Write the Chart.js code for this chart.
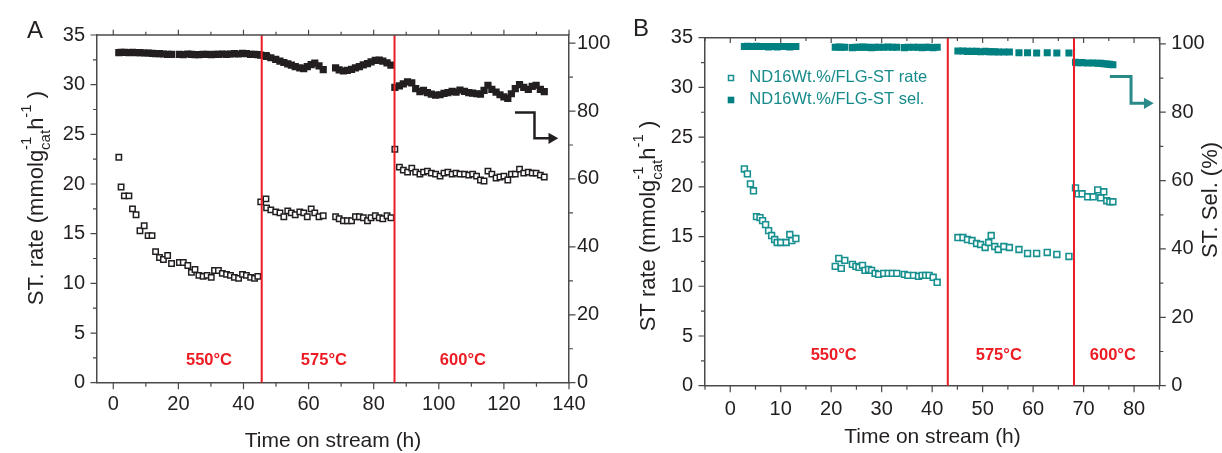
<!DOCTYPE html>
<html>
<head>
<meta charset="utf-8">
<script src="https://cdn.jsdelivr.net/npm/chart.js@4.4.1/dist/chart.umd.min.js"></script>
<style>
  html, body { margin: 0; padding: 0; background: #fff; }
  #wrap { position: relative; width: 1222px; height: 453px; }
  #wrap canvas { position: absolute; top: 0; }
</style>
</head>
<body>
<div id="wrap">
  <canvas id="chartA" width="610" height="453" style="left:0px"></canvas>
  <canvas id="chartB" width="612" height="453" style="left:610px"></canvas>
</div>
<script>
// ---- panel A : time on stream (h), ST rate and ST selectivity ----
const timeA = [
  1.7, 2.4, 3.4, 4.8, 5.9, 7.0, 8.2, 9.5, 10.7, 11.9, 13.0, 14.2, 15.4, 16.7, 17.9, 20.3, 21.5, 22.9,
  24.0, 25.1, 26.3, 27.6, 28.8, 30.1, 31.1, 32.3, 33.5, 34.8, 36.0, 37.2, 38.5, 39.7, 40.9, 42.2, 43.4, 44.4,
  45.3, 46.9, 47.1, 48.4, 49.9, 51.2, 52.4, 53.6, 54.7, 55.9, 57.3, 58.5, 59.6, 60.8, 61.9, 63.2,
  64.5, 68.3, 69.4, 70.7, 71.9, 73.2, 74.4, 75.6, 76.8, 78.1, 79.2, 80.5, 81.7, 82.8, 84.1, 85.3,
  86.5, 87.9, 89.1, 90.4, 91.7, 92.9, 94.2, 95.3, 96.5, 97.7, 99.0, 100.4, 101.6, 102.8, 104.1, 105.3,
  106.5, 107.9, 109.2, 110.4, 111.6, 112.8, 113.9, 115.1, 116.3, 117.6, 118.8, 120.0, 121.2, 122.3,
  123.5, 124.8, 126.1, 127.5, 128.7, 129.9, 131.2, 132.4
];
const rateA = [
  22.7, 19.7, 18.8, 18.8, 17.5, 16.9, 15.3, 15.8, 14.8, 14.8, 13.2, 12.6, 12.4, 12.8, 12.0, 12.1, 12.1, 11.8,
  11.1, 11.4, 10.8, 10.7, 10.8, 10.6, 11.3, 11.3, 11.0, 10.9, 10.8, 10.6, 10.5, 10.9, 10.8, 10.6, 10.5, 10.7,
  18.2, 18.5, 17.6, 17.4, 17.2, 17.1, 16.7, 17.3, 17.1, 16.9, 17.2, 17.1, 16.7, 17.5, 17.1, 16.7,
  16.8, 16.7, 16.5, 16.3, 16.3, 16.3, 16.7, 16.7, 16.6, 16.3, 16.6, 16.8, 16.6, 16.5, 16.8, 16.6,
  23.5, 21.7, 21.4, 21.2, 21.6, 21.2, 21.0, 21.2, 21.3, 21.1, 21.0, 20.8, 21.1, 21.2, 21.0, 21.1,
  21.0, 21.0, 20.9, 21.0, 20.8, 20.4, 20.3, 21.3, 21.0, 20.6, 20.7, 20.8, 20.4, 21.0,
  21.0, 21.5, 21.1, 21.2, 21.1, 21.1, 20.9, 20.7
];
const selA = [
  97.2, 97.3, 97.3, 97.2, 97.3, 97.2, 97.2, 97.1, 97.1, 97.0, 96.9, 96.9, 96.8, 96.7, 96.7, 96.7, 96.6, 96.8,
  96.7, 96.6, 96.6, 96.7, 96.7, 96.6, 96.7, 96.7, 96.8, 96.7, 96.8, 96.9, 96.8, 97.0, 96.9, 96.7, 96.7, 96.6,
  96.5, 96.3, 96.1, 95.7, 95.2, 94.7, 94.3, 93.9, 93.5, 93.1, 92.7, 92.5, 93.1, 93.7, 94.1, 93.3,
  92.2, 92.7, 92.1, 91.8, 92.0, 92.3, 92.7, 93.1, 93.6, 94.0, 94.5, 94.9, 95.0, 94.7, 94.2, 93.5,
  87.0, 87.4, 88.0, 88.6, 88.3, 86.6, 85.7, 86.1, 85.4, 85.0, 84.7, 84.8, 85.2, 85.4, 85.8, 85.6,
  86.2, 85.8, 85.4, 85.3, 85.1, 85.0, 86.1, 87.6, 86.4, 85.6, 84.8, 84.2, 83.7, 85.1,
  86.6, 87.8, 87.0, 86.4, 87.3, 87.6, 86.4, 85.7
];
const switchA = [45.6, 86.4];
const tempPosA = [29.4, 64.7, 107.4];
const xTicksA = [0, 20, 40, 60, 80, 100, 120, 140];
const arrowA = { x: [123.4, 129.4, 129.4, 134.7], y: [27.2, 27.2, 24.6, 24.6] };

// ---- panel B : ND16Wt.%/FLG ----
const timeB = [
  2.8, 3.4, 4.0, 4.6, 5.2, 5.9, 6.4, 7.0, 7.6, 8.2, 8.8, 9.3, 10.0, 11.1, 11.8, 12.2, 13.0,
  20.8, 21.5, 22.0, 22.7, 24.2, 24.9, 25.5, 26.2, 26.7, 27.4, 28.0, 28.7, 29.4, 30.4, 31.3, 32.1, 33.0,
  34.5, 35.2, 36.3, 37.3, 38.0, 38.7, 39.4, 40.2, 41.0,
  45.1, 46.1, 47.0, 47.9, 48.8, 49.6, 50.5, 51.2, 51.7, 52.4, 53.1, 54.2, 55.3, 57.2, 58.9, 60.7, 62.8, 64.7, 67.1,
  68.4, 68.9, 69.7, 70.8, 71.9, 72.8, 73.4, 74.0, 74.6, 75.2, 75.8
];
const rateB = [
  21.8, 21.3, 20.3, 19.6, 17.0, 16.9, 16.6, 16.2, 15.6, 15.1, 14.7, 14.4, 14.4, 14.4, 15.2, 14.6, 14.8,
  12.0, 12.8, 11.8, 12.6, 12.2, 12.0, 11.9, 12.1, 11.6, 11.7, 11.6, 11.3, 11.2, 11.3, 11.3, 11.3, 11.3,
  11.2, 11.1, 11.1, 11.0, 11.1, 11.1, 11.1, 10.9, 10.4,
  14.9, 14.9, 14.7, 14.6, 14.3, 14.2, 13.9, 14.4, 15.1, 14.0, 13.7, 14.0, 13.9, 13.7, 13.3, 13.3, 13.4, 13.2, 13.0,
  19.9, 19.3, 19.3, 19.0, 19.0, 19.7, 18.9, 19.5, 18.6, 18.5, 18.5
];
const selB = [
  99.2, 99.3, 99.2, 99.2, 99.3, 99.2, 99.2, 99.2, 99.1, 99.2, 99.2, 99.1, 99.2, 99.2, 99.1, 99.2, 99.2,
  99.0, 99.1, 99.0, 99.0, 98.9, 99.0, 99.0, 99.1, 99.0, 99.0, 98.9, 99.0, 99.0, 99.0, 99.1, 99.0, 99.0,
  98.9, 99.0, 99.0, 99.0, 98.9, 99.0, 99.0, 98.9, 99.0,
  97.9, 97.9, 97.8, 97.8, 97.8, 97.7, 97.8, 97.7, 97.7, 97.7, 97.6, 97.6, 97.6, 97.4, 97.4, 97.3, 97.4, 97.3, 97.3,
  94.6, 94.5, 94.5, 94.4, 94.4, 94.3, 94.3, 94.2, 94.1, 94.0, 93.9
];
const switchB = [43.1, 68.1];
const tempPosB = [20.5, 53.2, 75.8];
const xTicksB = [0, 10, 20, 30, 40, 50, 60, 70, 80];
const arrowB = { x: [75.2, 79.4, 79.4, 82.6], y: [31.1, 31.1, 28.4, 28.4] };
const legendB = ['ND16Wt.%/FLG-ST rate', 'ND16Wt.%/FLG-ST sel.'];

const tempLabels = ['550\u00B0C', '575\u00B0C', '600\u00B0C'];
const yTicksRate = [0, 5, 10, 15, 20, 25, 30, 35];
const yTicksSel = [0, 20, 40, 60, 80, 100];

const FONT = '"Liberation Sans", Arial, Helvetica, sans-serif';
const AXIS = '#4a4a4a';
const INK = '#231f20';
const RED = '#ed1c24';
const TEAL = '#008080';
const TEAL_OPEN = '#17908f';

function pts(xs, ys) {
  return xs.map((t, i) => ({ x: t, y: ys[i] }));
}

function vline(t) {
  return [{ x: t, y: 0 }, { x: t, y: 35 }];
}

function fixTicks(values) {
  return s => { s.ticks = values.map(v => ({ value: v })); };
}

// rotated axis title with sub/superscripts
function drawRich(ctx, parts, bx, cy, size) {
  const small = Math.round(size * 0.68);
  const f = s => s + 'px ' + FONT;
  ctx.save();
  ctx.translate(bx, cy);
  ctx.rotate(-Math.PI / 2);
  ctx.textBaseline = 'alphabetic';
  ctx.textAlign = 'left';
  ctx.fillStyle = INK;
  const w = parts.map(p => {
    if (typeof p === 'string') {
      ctx.font = f(size);
      return ctx.measureText(p).width;
    }
    ctx.font = f(small);
    return Math.max(p.sup ? ctx.measureText(p.sup).width : 0, p.sub ? ctx.measureText(p.sub).width : 0);
  });
  let cx = -w.reduce((s, v) => s + v, 0) / 2;
  parts.forEach((p, i) => {
    if (typeof p === 'string') {
      ctx.font = f(size);
      ctx.fillText(p, cx, 0);
    } else {
      ctx.font = f(small);
      if (p.sup) ctx.fillText(p.sup, cx, -size * 0.55);
      if (p.sub) ctx.fillText(p.sub, cx, size * 0.3);
    }
    cx += w[i];
  });
  ctx.restore();
}

function tickValues(scale, minorStep) {
  const majors = scale.ticks.map(t => t.value);
  const minors = [];
  for (let v = Math.ceil(scale.min / minorStep - 1e-9) * minorStep; v <= scale.max + 1e-9; v += minorStep) {
    if (!majors.some(m => Math.abs(m - v) < 1e-6)) minors.push(v);
  }
  return { majors, minors };
}

// frame, major/minor ticks and the texts drawn on top
function makeDecor(spec) {
  return {
    id: 'decor',
    afterDraw(chart) {
      const ctx = chart.ctx;
      const a = chart.chartArea;
      const x = chart.scales.x, y = chart.scales.y, y2 = chart.scales.y2;
      ctx.save();
      ctx.strokeStyle = AXIS;
      ctx.lineWidth = 1.5;
      ctx.beginPath();
      ctx.moveTo(a.left, a.top);
      ctx.lineTo(a.right, a.top);
      ctx.stroke();

      ctx.lineWidth = 1.2;
      const big = 6.5, sm = 4;
      const tx = tickValues(x, spec.minorX);
      ctx.beginPath();
      [[tx.majors, big], [tx.minors, sm]].forEach(([vals, len]) => {
        vals.forEach(v => {
          const px = x.getPixelForValue(v);
          ctx.moveTo(px, a.bottom);
          ctx.lineTo(px, a.bottom + len);
          ctx.moveTo(px, a.top);
          ctx.lineTo(px, a.top + spec.topDir * len * 0.8);
        });
      });
      const ty = tickValues(y, spec.minorY);
      [[ty.majors, big], [ty.minors, sm]].forEach(([vals, len]) => {
        vals.forEach(v => {
          const py = y.getPixelForValue(v);
          ctx.moveTo(a.left, py);
          ctx.lineTo(a.left - len, py);
        });
      });
      const ty2 = tickValues(y2, spec.minorY2);
      [[ty2.majors, big], [ty2.minors, sm]].forEach(([vals, len]) => {
        vals.forEach(v => {
          const py = y2.getPixelForValue(v);
          ctx.moveTo(a.right, py);
          ctx.lineTo(a.right + len, py);
        });
      });
      ctx.stroke();

      // temperature labels
      ctx.fillStyle = RED;
      ctx.font = 'bold 16.5px ' + FONT;
      ctx.textAlign = 'center';
      ctx.textBaseline = 'middle';
      spec.tempPos.forEach((t, i) => {
        ctx.fillText(tempLabels[i], x.getPixelForValue(t), y.getPixelForValue(spec.tempLevel));
      });

      // x title and panel letter
      ctx.fillStyle = INK;
      ctx.textBaseline = 'alphabetic';
      ctx.font = '21px ' + FONT;
      ctx.fillText('Time on stream (h)', spec.xTitle[0], spec.xTitle[1]);
      ctx.textAlign = 'left';
      ctx.font = '24px ' + FONT;
      ctx.fillText(spec.letter[0], spec.letter[1], spec.letter[2]);

      drawRich(ctx, spec.yTitle, spec.yTitlePos[0], spec.yTitlePos[1], 22);
      if (spec.y2Title) drawRich(ctx, [spec.y2Title], spec.y2TitlePos[0], spec.y2TitlePos[1], 22);
      if (spec.extra) spec.extra(ctx);
      ctx.restore();
    }
  };
}

function baseScales(o) {
  const tickFont = { family: FONT, size: 20 };
  return {
    x: {
      type: 'linear', min: o.xMin, max: o.xMax,
      afterBuildTicks: fixTicks(o.xTicks),
      afterFit: s => { s.height = o.xH; },
      grid: { display: false, drawTicks: false },
      border: { color: AXIS, width: 1.5 },
      ticks: { padding: o.xPad, font: tickFont, color: INK, autoSkip: false, maxRotation: 0 }
    },
    y: {
      type: 'linear', position: 'left', min: 0, max: 35,
      afterBuildTicks: fixTicks(yTicksRate),
      afterFit: s => { s.width = o.yW; },
      grid: { display: false, drawTicks: false },
      border: { color: AXIS, width: 1.5 },
      ticks: { padding: 12, font: tickFont, color: INK }
    },
    y2: {
      type: 'linear', position: 'right', min: 0, max: o.y2Max,
      afterBuildTicks: fixTicks(yTicksSel),
      afterFit: s => { s.width = o.y2W; },
      grid: { display: false, drawTicks: false },
      border: { color: AXIS, width: 1.5 },
      ticks: { padding: o.y2Pad, font: tickFont, color: INK }
    }
  };
}

function arrowSet(ar, color, width) {
  return {
    data: pts(ar.x, ar.y), yAxisID: 'y', showLine: true, tension: 0,
    borderColor: color, borderWidth: width, borderJoinStyle: 'miter',
    pointStyle: 'triangle', rotation: 90,
    pointRadius: c => (c.dataIndex === ar.x.length - 1 ? 6.5 : 0),
    pointBackgroundColor: color, pointBorderColor: color, pointBorderWidth: 0
  };
}

const common = {
  responsive: false,
  animation: false,
  events: [],
  plugins: { legend: { display: false }, tooltip: { enabled: false } }
};

new Chart(document.getElementById('chartA'), {
  type: 'scatter',
  data: {
    datasets: [
      ...switchA.map(t => ({ data: vline(t), yAxisID: 'y', showLine: true, borderColor: RED, borderWidth: 2, pointRadius: 0 })),
      arrowSet(arrowA, INK, 2.5),
      {
        label: 'ST rate', data: pts(timeA, rateA), yAxisID: 'y',
        pointStyle: 'rect', pointRadius: 3.8, borderWidth: 1.5, borderColor: INK, backgroundColor: '#ffffff'
      },
      {
        label: 'ST sel.', data: pts(timeA, selA), yAxisID: 'y2',
        pointStyle: 'rect', pointRadius: 5.1, borderWidth: 0, backgroundColor: INK
      }
    ]
  },
  options: {
    ...common,
    layout: { padding: { top: 35, left: 0, right: 0, bottom: 0 } },
    scales: baseScales({ xMin: -5, xMax: 140, xTicks: xTicksA, xH: 70.3, xPad: 10, yW: 97, y2W: 41, y2Max: 102.4, y2Pad: 8 })
  },
  plugins: [makeDecor({
    minorX: 10, minorY: 2.5, minorY2: 10, topDir: -1,
    tempPos: tempPosA, tempLevel: 2.2,
    xTitle: [333, 447], letter: ['A', 27, 38],
    yTitle: ['ST. rate (mmolg', { sup: '-1', sub: 'cat' }, 'h', { sup: '-1' }, ' )'],
    yTitlePos: [43, 198]
  })]
});

new Chart(document.getElementById('chartB'), {
  type: 'scatter',
  data: {
    datasets: [
      ...switchB.map(t => ({ data: vline(t), yAxisID: 'y', showLine: true, borderColor: RED, borderWidth: 2, pointRadius: 0 })),
      arrowSet(arrowB, '#2a8a8a', 3),
      {
        label: legendB[0], data: pts(timeB, rateB), yAxisID: 'y',
        pointStyle: 'rect', pointRadius: 4.1, borderWidth: 1.6, borderColor: TEAL_OPEN, backgroundColor: '#ffffff'
      },
      {
        label: legendB[1], data: pts(timeB, selB), yAxisID: 'y2',
        pointStyle: 'rect', pointRadius: 5, borderWidth: 0, backgroundColor: TEAL
      }
    ]
  },
  options: {
    ...common,
    layout: { padding: { top: 37.7, left: 0, right: 0, bottom: 0 } },
    scales: baseScales({ xMin: -5, xMax: 85, xTicks: xTicksB, xH: 67.3, xPad: 12, yW: 95, y2W: 62.7, y2Max: 101.8, y2Pad: 12 })
  },
  plugins: [makeDecor({
    minorX: 5, minorY: 2.5, minorY2: 10, topDir: 1,
    tempPos: tempPosB, tempLevel: 3.0,
    xTitle: [322.5, 443], letter: ['B', 23, 36],
    yTitle: ['ST rate (mmolg', { sup: '-1', sub: 'cat' }, 'h', { sup: '-1' }, ' )'],
    yTitlePos: [45, 226],
    y2Title: 'ST. Sel. (%)', y2TitlePos: [607, 200],
    extra: ctx => {
      // legend inside the plot area
      ctx.fillStyle = '#178a8a';
      ctx.font = '16.5px ' + FONT;
      ctx.textAlign = 'left';
      ctx.textBaseline = 'middle';
      ctx.fillText(legendB[0], 139.3, 77);
      ctx.fillText(legendB[1], 139.3, 99);
      ctx.strokeStyle = TEAL_OPEN;
      ctx.lineWidth = 1.5;
      ctx.fillStyle = '#ffffff';
      ctx.fillRect(118.5, 75.5, 5, 5);
      ctx.strokeRect(118.5, 75.5, 5, 5);
      ctx.fillStyle = TEAL;
      ctx.fillRect(117.7, 96.7, 6.6, 6.6);
    }
  })]
});
</script>
</body>
</html>
